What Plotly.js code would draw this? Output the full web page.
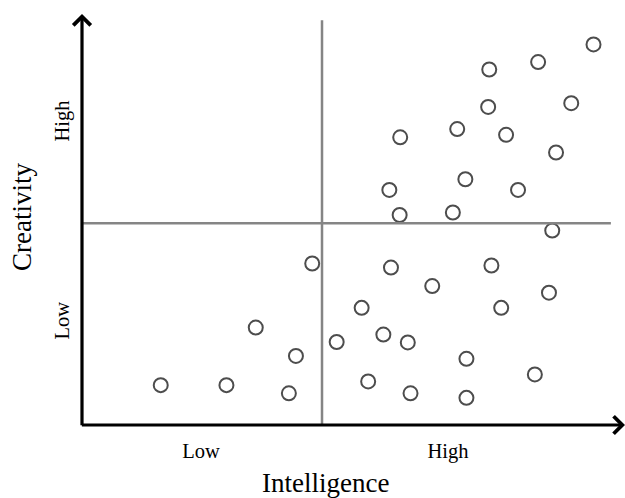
<!DOCTYPE html>
<html>
<head>
<meta charset="utf-8">
<script src="https://cdn.plot.ly/plotly-3.0.1.min.js"></script>
<style>html,body{margin:0;padding:0;background:#fff;}#chart{width:625px;height:498px;}</style>
</head>
<body>
<div id="chart"></div>
<script>
// Intelligence (x) and Creativity (y) scores, 0-10 scale
var intelligence = [1.45, 2.66, 3.81, 3.94, 3.20, 4.24, 5.69, 7.54, 6.45, 8.60,
                    5.15, 7.72, 4.69, 5.55, 6.00, 7.08, 8.34, 5.27, 6.05, 7.08,
                    9.42, 8.40, 7.50, 9.01, 7.48, 6.91, 7.81, 5.86, 8.73, 7.06,
                    5.66, 8.03, 5.85, 6.83, 8.66];
var creativity   = [0.97, 0.97, 0.77, 1.68, 2.37, 3.93, 3.83, 3.88, 3.38, 3.22,
                    2.85, 2.85, 2.02, 2.20, 2.01, 1.61, 1.23, 1.06, 0.77, 0.66,
                    9.26, 8.83, 8.65, 7.83, 7.74, 7.20, 7.06, 7.00, 6.63, 5.98,
                    5.72, 5.72, 5.11, 5.17, 4.73];

// Quadrant divider positions
var intelligenceSplit = 4.42;
var creativitySplit = 4.91;

// Tick labels
var xTickVals = [2.19, 6.74];
var xTickText = ['Low', 'High'];
var yTickVals = [2.46, 7.32];
var yTickText = ['Low', 'High'];

var serif = 'Liberation Serif, Times New Roman, serif';

var trace = {
  x: intelligence,
  y: creativity,
  type: 'scatter',
  mode: 'markers',
  cliponaxis: false,
  marker: {symbol: 'circle-open', size: 14, color: '#4d4d4d', line: {width: 2, color: '#4d4d4d'}},
  hoverinfo: 'skip'
};

var layout = {
  width: 625,
  height: 498,
  margin: {l: 82, r: 0, t: 14, b: 73, pad: 0},
  paper_bgcolor: '#ffffff',
  plot_bgcolor: '#ffffff',
  showlegend: false,
  font: {family: serif, color: '#000'},
  xaxis: {
    range: [0, 10], showgrid: false, zeroline: false, showline: false,
    ticks: '', tickvals: xTickVals, ticktext: xTickText,
    tickfont: {family: serif, size: 20.5, color: '#000'},
    ticklabelstandoff: 11, fixedrange: true
  },
  yaxis: {
    range: [0, 10], showgrid: false, zeroline: false, showline: false,
    ticks: '', tickvals: yTickVals, ticktext: yTickText, tickangle: -90,
    tickfont: {family: serif, size: 20.5, color: '#000'},
    ticklabelstandoff: 8, fixedrange: true
  },
  shapes: [
    {type: 'line', xref: 'x', yref: 'y', x0: intelligenceSplit, x1: intelligenceSplit, y0: 0, y1: 9.85,
     line: {color: '#858585', width: 2.5}},
    {type: 'line', xref: 'x', yref: 'y', x0: 0.02, x1: 9.74, y0: creativitySplit, y1: creativitySplit,
     line: {color: '#858585', width: 2.5}}
  ],
  annotations: [
    {xref: 'x', yref: 'y', axref: 'x', ayref: 'y', x: 0, y: 10, ax: 0, ay: -0.04, text: '',
     showarrow: true, arrowhead: 4, arrowsize: 1.05, arrowwidth: 3.2, arrowcolor: '#000', standoff: 0},
    {xref: 'x', yref: 'y', axref: 'x', ayref: 'y', x: 10, y: 0, ax: -0.03, ay: 0, text: '',
     showarrow: true, arrowhead: 4, arrowsize: 1.05, arrowwidth: 3.2, arrowcolor: '#000', standoff: 0},
    {xref: 'x', yref: 'paper', x: 4.49, y: 0, yanchor: 'middle', xanchor: 'center', yshift: -58,
     text: 'Intelligence', showarrow: false, font: {family: serif, size: 27, color: '#000'}},
    {xref: 'paper', yref: 'paper', x: 0, y: 0.506, xanchor: 'center', yanchor: 'middle', xshift: -60,
     textangle: -90, text: 'Creativity', showarrow: false, font: {family: serif, size: 27, color: '#000'}}
  ]
};

Plotly.newPlot('chart', [trace], layout, {displayModeBar: false, staticPlot: true});
</script>
</body>
</html>
